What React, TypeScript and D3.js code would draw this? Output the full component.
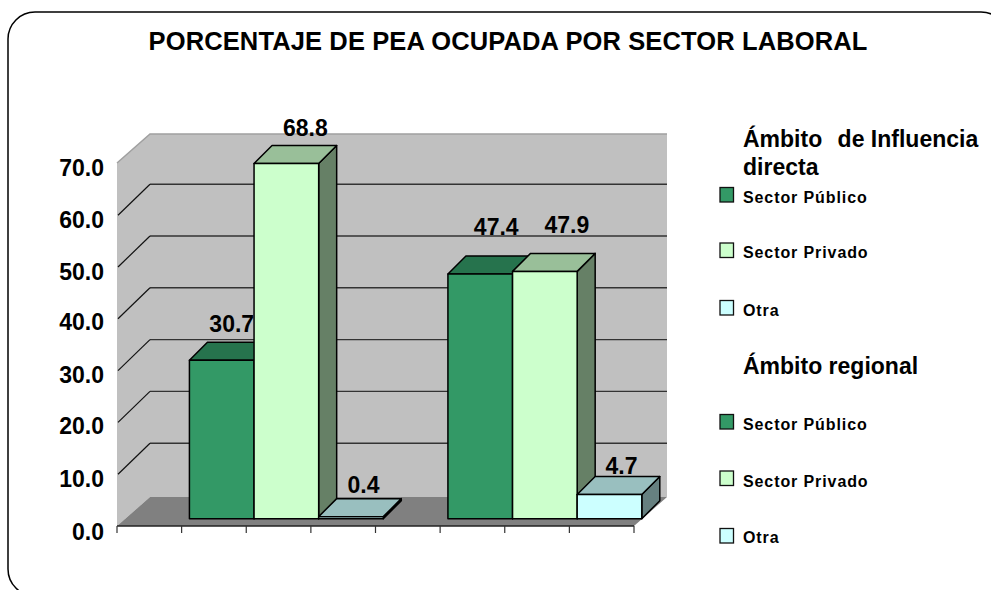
import React from "react";
import * as d3 from "d3";

const title = "PORCENTAJE DE PEA OCUPADA POR SECTOR LABORAL";
const categories = ["Ámbito de Influencia directa", "Ámbito regional"];
const seriesNames = ["Sector Público", "Sector Privado", "Otra"];
const valuesPublico = [30.7, 47.4];
const valuesPrivado = [68.8, 47.9];
const valuesOtra = [0.4, 4.7];
const yTicks = [0, 10, 20, 30, 40, 50, 60, 70];

const fills = ["#339966", "#CCFFCC", "#CCFFFF"];
const topFills = ["#26734D", "#99BF99", "#99BFBF"];
const sideFills = ["#1A4D33", "#668066", "#668080"];
const FONT = "'Liberation Sans', Arial, sans-serif";

// label nudges relative to each bar (dx from bar centre, dy above bar top)
const labelNudge = [
  [[10, 28], [19, 27.5], [12.5, 24]],
  [[16, 39], [22, 38], [12, 20]],
];
const yLabelY = [530, 477, 424, 373, 320, 270, 218, 166];

const seriesValues = [valuesPublico, valuesPrivado, valuesOtra];

const LEFT = 117;
const RIGHT = 634;
const FLOOR = 526;
const TOP = 163;
const DX = 33;
const DY = 29;
const BAR_Z = 7.8 / 33;
const BAR_DX = 18;
const BAR_DY = 18;

const xOuter = d3.scaleBand<string>().domain(categories).range([LEFT, RIGHT]);
const xInner = d3
  .scaleBand<string>()
  .domain(["", ...seriesNames])
  .range([0, xOuter.bandwidth()]);
const yWall = d3.scaleLinear().domain([0, 70]).range([495, 132.4]);
const yBar = d3.scaleLinear().domain([0, 70]).range([518.7, 157.3]);

const poly = (pts: number[][]) => pts.map((p) => p.join(",")).join(" ");

function Legend({ heading, headY, rows, textY, swY }: { heading: string[]; headY: number; rows: string[]; textY: number[]; swY: number[] }) {
  return (
    <g>
      {heading.map((h, i) => {
        const words = h.split(" ");
        return (
          <text key={h} x={743} y={headY + i * 28} fontSize={23} fontWeight="bold">
            {heading.length > 1 && i === 0 ? (
              <>
                {words[0]}
                <tspan dx={9}> {words.slice(1).join(" ")}</tspan>
              </>
            ) : (
              h
            )}
          </text>
        );
      })}
      {rows.map((r, i) => (
        <g key={r}>
          <rect x={720} y={swY[i]} width={13.5} height={14.5} fill={fills[i]} stroke="#111" strokeWidth={1.3} />
          <text x={743} y={textY[i]} fontSize={16} fontWeight="bold" letterSpacing={0.9}>{r}</text>
        </g>
      ))}
    </g>
  );
}

export default function App() {
  const ticks = d3.range(9).map((i) => LEFT + ((RIGHT - LEFT) * i) / 8);
  return (
    <svg
      width={991}
      height={590}
      viewBox="0 0 991 590"
      style={{ position: "absolute", left: 0, top: 0, fontFamily: FONT, background: "#fff" }}
    >
      <rect x={8} y={12} width={1000} height={584} rx={27} ry={27} fill="#fff" stroke="#000" strokeWidth={1.5} />
      <text x={508} y={50} textAnchor="middle" fontSize={25.5} fontWeight="bold" letterSpacing={0.12}>{title}</text>

      {/* walls */}
      <polygon points={poly([[LEFT + DX, TOP - DY], [RIGHT + DX, TOP - DY], [RIGHT + DX, FLOOR - DY], [LEFT + DX, FLOOR - DY]])} fill="#C0C0C0" />
      <polygon points={poly([[LEFT, TOP], [LEFT + DX, TOP - DY], [LEFT + DX, FLOOR - DY], [LEFT, FLOOR]])} fill="#C0C0C0" />
      <polyline points={poly([[LEFT, TOP], [LEFT + DX, TOP - DY], [RIGHT + DX, TOP - DY]])} fill="none" stroke="#A0A0A0" strokeWidth={1.5} />
      <polygon points={poly([[LEFT, FLOOR], [LEFT + DX, FLOOR - DY], [RIGHT + DX, FLOOR - DY], [RIGHT, FLOOR]])} fill="#808080" />

      {/* gridlines */}
      {yTicks.slice(1, -1).map((v) => (
        <g key={v}>
          <line x1={LEFT + DX} x2={RIGHT + DX} y1={yWall(v)} y2={yWall(v)} stroke="#333" strokeWidth={1.4} />
          <line x1={LEFT + 1} x2={LEFT + DX} y1={yWall(v) + 31} y2={yWall(v)} stroke="#111" strokeWidth={1.2} />
        </g>
      ))}

      {/* axis */}
      <line x1={LEFT} x2={RIGHT} y1={FLOOR} y2={FLOOR} stroke="#222" strokeWidth={1.5} />
      {ticks.map((t) => (
        <line key={t} x1={t} x2={t} y1={FLOOR} y2={FLOOR + 7} stroke="#333" strokeWidth={1.2} />
      ))}
      {yTicks.map((v, i) => (
        <text key={v} x={104} y={yLabelY[i] + 9.5} textAnchor="end" fontSize={23} fontWeight="bold">{v.toFixed(1)}</text>
      ))}

      {/* bars */}
      {categories.map((c, gi) => (
        <g key={c}>
          {seriesNames.map((s, si) => {
            const v = seriesValues[si][gi];
            const x0 = xOuter(c)! + xInner(s)! + BAR_Z * DX;
            const x1 = x0 + xInner.bandwidth();
            const y1 = yBar(v);
            const y0 = yBar(0);
            return (
              <g key={s} stroke="#000" strokeWidth={1.5} strokeLinejoin="round">
                <polygon points={poly([[x1, y1], [x1 + BAR_DX, y1 - BAR_DY], [x1 + BAR_DX, y0 - BAR_DY], [x1, y0]])} fill={sideFills[si]} />
                <polygon points={poly([[x0, y1], [x0 + BAR_DX, y1 - BAR_DY], [x1 + BAR_DX, y1 - BAR_DY], [x1, y1]])} fill={topFills[si]} />
                <rect x={x0} y={y1} width={x1 - x0} height={y0 - y1} fill={fills[si]} />
              </g>
            );
          })}
        </g>
      ))}

      {/* value labels */}
      {categories.map((c, gi) =>
        seriesNames.map((s, si) => {
          const v = seriesValues[si][gi];
          const cx = xOuter(c)! + xInner(s)! + BAR_Z * DX + xInner.bandwidth() / 2;
          const [dx, dy] = labelNudge[gi][si];
          return (
            <text key={c + s} x={cx + dx} y={yBar(v) - dy} textAnchor="middle" fontSize={23} fontWeight="bold">{v.toFixed(1)}</text>
          );
        })
      )}

      <Legend heading={["Ámbito de Influencia", "directa"]} headY={147} rows={seriesNames} textY={[203, 258, 316]} swY={[187.5, 243, 300.5]} />
      <Legend heading={["Ámbito regional"]} headY={374} rows={seriesNames} textY={[430, 487, 543]} swY={[414.5, 471, 528.5]} />
    </svg>
  );
}
